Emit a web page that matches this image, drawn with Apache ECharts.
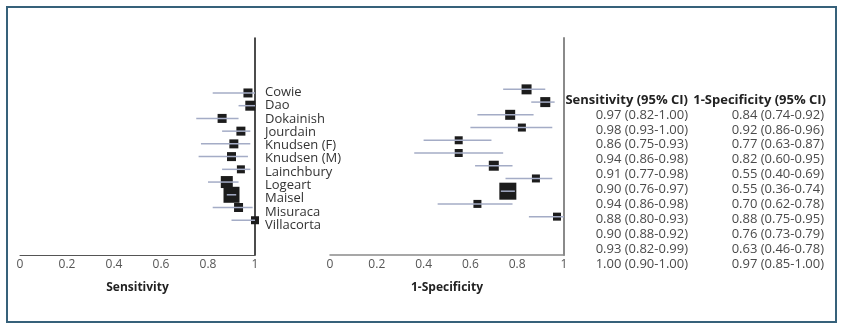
<!DOCTYPE html>
<html>
<head>
<meta charset="utf-8">
<script src="https://cdn.jsdelivr.net/npm/echarts@6/dist/echarts.min.js"></script>
<style>
  html, body { margin: 0; padding: 0; background: #fff; }
  #main { width: 843px; height: 327px; }
</style>
</head>
<body>
<div id="main"></div>
<script>
// studies, top to bottom
var studies = ['Cowie', 'Dao', 'Dokainish', 'Jourdain', 'Knudsen (F)', 'Knudsen (M)',
               'Lainchbury', 'Logeart', 'Maisel', 'Misuraca', 'Villacorta'];

var sensEst = [0.97, 0.98, 0.86, 0.94, 0.91, 0.90, 0.94, 0.88, 0.90, 0.93, 1.00];
var sensLo  = [0.82, 0.93, 0.75, 0.86, 0.77, 0.76, 0.86, 0.80, 0.88, 0.82, 0.90];
var sensHi  = [1.00, 1.00, 0.93, 0.98, 0.98, 0.97, 0.98, 0.93, 0.92, 0.99, 1.00];

var specEst = [0.84, 0.92, 0.77, 0.82, 0.55, 0.55, 0.70, 0.88, 0.76, 0.63, 0.97];
var specLo  = [0.74, 0.86, 0.63, 0.60, 0.40, 0.36, 0.62, 0.75, 0.73, 0.46, 0.85];
var specHi  = [0.92, 0.96, 0.87, 0.95, 0.69, 0.74, 0.78, 0.95, 0.79, 0.78, 1.00];

// study weights (box size)
var sensWeight = [9, 10, 9, 9, 9, 9, 8, 12, 16, 9, 8];
var specWeight = [10, 10, 10, 8, 8, 8, 10, 8, 17, 8, 8];

var xTicks = [0, 0.2, 0.4, 0.6, 0.8, 1];

var FONT = '"Open Sans", "Noto Sans", sans-serif';

function ciText(e, l, h, i) {
    return e[i].toFixed(2) + ' (' + l[i].toFixed(2) + '-' + h[i].toFixed(2) + ')';
}
var sensLabels = studies.map(function (s, i) { return ciText(sensEst, sensLo, sensHi, i); });
var specLabels = studies.map(function (s, i) { return ciText(specEst, specLo, specHi, i); });

function forestItem(params, api) {
    var row = api.value(3);
    var c = api.coord([api.value(0), row]);
    var lo = api.coord([api.value(1), row]);
    var hi = api.coord([api.value(2), row]);
    var s = api.value(4);
    return {
        type: 'group',
        children: [{
            type: 'rect',
            shape: { x: c[0] - s / 2, y: c[1] - s / 2, width: s, height: s },
            style: { fill: '#1c1c1c' }
        }, {
            type: 'line',
            shape: { x1: lo[0], y1: c[1], x2: hi[0], y2: c[1] },
            style: { stroke: '#a4acc6', lineWidth: 1.5 }
        }]
    };
}

function frameX(grid, name, lineColor, lineWidth) {
    return {
        gridIndex: grid, type: 'value', min: 0, max: 1, interval: 0.2,
        name: name, nameLocation: 'middle', nameGap: 27,
        nameTextStyle: { fontFamily: FONT, fontWeight: 'bold', fontSize: 12, color: '#222' },
        axisLine: { onZero: false, lineStyle: { color: lineColor, width: lineWidth } },
        axisTick: { show: false },
        splitLine: { show: false },
        axisLabel: {
            margin: 4, fontFamily: FONT, fontSize: 12, color: '#555',
            formatter: function (v) { return xTicks.indexOf(v) >= 0 ? String(v) : ''; }
        }
    };
}
function hiddenX(grid) {
    return { gridIndex: grid, type: 'value', min: 0, max: 1, show: false };
}
function frameY(grid, lineColor, lineWidth) {
    return {
        gridIndex: grid, type: 'value', min: 0, max: 1, position: 'right',
        axisLine: { show: true, onZero: false, lineStyle: { color: lineColor, width: lineWidth } },
        axisTick: { show: false }, axisLabel: { show: false }, splitLine: { show: false }
    };
}
function rowsY(grid) {
    return { gridIndex: grid, type: 'category', data: studies, inverse: true, show: false };
}
function labelY(grid, data, pos, offset, margin, size, color) {
    return {
        gridIndex: grid, type: 'category', data: data, inverse: true,
        position: pos, offset: offset,
        axisLine: { show: false }, axisTick: { show: false },
        axisLabel: { interval: 0, margin: margin, fontFamily: FONT, fontSize: size, color: color }
    };
}

var dom = document.getElementById('main');
var chart = echarts.init(dom);

var option = {
    animation: false,
    backgroundColor: '#fff',
    grid: [
        { left: 20, width: 235, top: 38, height: 217 },     // 0 left frame
        { left: 20, width: 235, top: 86.6, height: 140 },   // 1 left rows
        { left: 20, width: 235, top: 85.6, height: 146.3 }, // 2 study names
        { left: 330, width: 234, top: 38, height: 217 },    // 3 right frame
        { left: 330, width: 234, top: 83, height: 140 },    // 4 right rows
        { left: 690, width: 135, top: 107.5, height: 164 }  // 5 table
    ],
    xAxis: [
        frameX(0, 'Sensitivity', '#555', 1),
        hiddenX(1),
        hiddenX(2),
        frameX(3, '1-Specificity', '#8a8a8a', 1.5),
        hiddenX(4),
        hiddenX(5)
    ],
    yAxis: [
        frameY(0, '#111', 1.5),
        rowsY(1),
        labelY(2, studies, 'right', 0, 10, 13, '#333'),
        frameY(3, '#8a8a8a', 2),
        rowsY(4),
        labelY(5, sensLabels, 'left', 0, 2, 13, '#4a4a4a'),
        labelY(5, specLabels, 'left', -135, 1, 13, '#4a4a4a')
    ],
    graphic: [{
        type: 'rect', z: -1,
        shape: { x: 7, y: 7, width: 829, height: 315 },
        style: { fill: 'none', stroke: '#36617a', lineWidth: 2 }
    }, {
        type: 'text', x: 688, y: 100,
        style: {
            text: 'Sensitivity (95% CI)', textAlign: 'right', textVerticalAlign: 'middle',
            font: 'bold 13px ' + FONT, fill: '#222'
        }
    }, {
        type: 'text', x: 826, y: 100,
        style: {
            text: '1-Specificity (95% CI)', textAlign: 'right', textVerticalAlign: 'middle',
            font: 'bold 13px ' + FONT, fill: '#222'
        }
    }],
    series: [{
        type: 'custom',
        xAxisIndex: 1, yAxisIndex: 1,
        clip: false,
        renderItem: forestItem,
        encode: { x: [0, 1, 2], y: 3 },
        data: studies.map(function (s, i) {
            return [sensEst[i], sensLo[i], sensHi[i], i, sensWeight[i]];
        })
    }, {
        type: 'custom',
        xAxisIndex: 4, yAxisIndex: 4,
        clip: false,
        renderItem: forestItem,
        encode: { x: [0, 1, 2], y: 3 },
        data: studies.map(function (s, i) {
            return [specEst[i], specLo[i], specHi[i], i, specWeight[i]];
        })
    }]
};

if (option && typeof option === 'object') {
    chart.setOption(option);
}
</script>
</body>
</html>
